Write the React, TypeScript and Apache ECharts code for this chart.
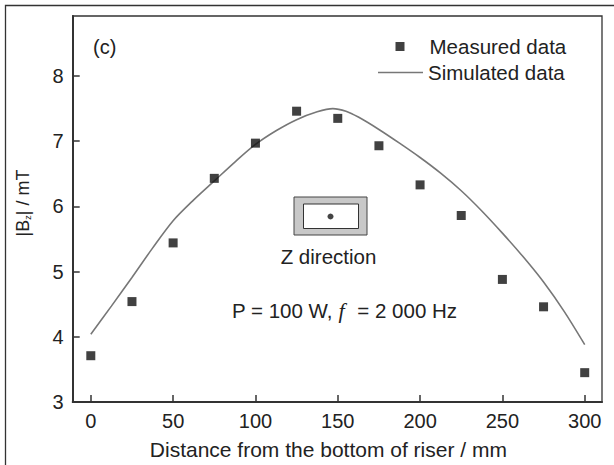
import React, { useEffect, useRef } from "react";
import * as echarts from "echarts";

const xTicks = [0, 50, 100, 150, 200, 250, 300];
const yTicks = [3, 4, 5, 6, 7, 8];

const measuredX = [0, 25, 50, 75, 100, 125, 150, 175, 200, 225, 250, 275, 300];
const measuredY = [3.71, 4.54, 5.44, 6.43, 6.97, 7.46, 7.35, 6.93, 6.33, 5.86, 4.88, 4.46, 3.45];

const simX = [0, 12.5, 25, 37.5, 50, 62.5, 75, 87.5, 100, 112.5, 125, 137.5, 147, 155, 162.5, 175, 187.5, 200, 212.5, 225, 237.5, 250, 262.5, 275, 287.5, 300];
const simY = [4.04, 4.47, 4.91, 5.36, 5.78, 6.1, 6.39, 6.68, 6.95, 7.16, 7.33, 7.45, 7.5, 7.46, 7.37, 7.18, 6.97, 6.75, 6.51, 6.24, 5.93, 5.59, 5.23, 4.84, 4.39, 3.88];

const FONT = "'Liberation Sans', Arial, Helvetica, sans-serif";
const TXT = "#222";

export default function App() {
  const ref = useRef<HTMLDivElement>(null);
  useEffect(() => {
    if (!ref.current) return;
    const chart = echarts.init(ref.current, null, { renderer: "svg" });
    const measured = measuredX.map((x, i) => [x, measuredY[i]]);
    const sim = simX.map((x, i) => [x, simY[i]]);
    chart.setOption({
      animation: false,
      backgroundColor: "#fff",
      textStyle: { fontFamily: FONT, color: TXT },
      grid: {
        left: 72.7,
        top: 16,
        right: 12,
        bottom: 62,
        show: true,
        borderColor: "#333",
        borderWidth: 1.3,
        backgroundColor: "transparent",
      },
      legend: [
        {
          data: [{ name: "Measured data", icon: "rect" }],
          left: 395.5,
          top: 36,
          padding: 0,
          itemWidth: 9,
          itemHeight: 9,
          textStyle: { fontSize: 20.5, color: TXT, fontFamily: FONT, padding: [0, 0, 0, 20] },
          selectedMode: false,
        },
        {
          data: [{ name: "Simulated data", icon: "rect", itemStyle: { color: "#777" } }],
          left: 378,
          top: 62,
          padding: 0,
          itemWidth: 45,
          itemHeight: 1.6,
          textStyle: { fontSize: 20.5, color: TXT, fontFamily: FONT },
          selectedMode: false,
        },
      ],
      xAxis: {
        type: "value",
        min: -11,
        max: 310.5,
        name: "Distance from the bottom of riser / mm",
        nameLocation: "middle",
        nameGap: 37,
        nameTextStyle: { fontSize: 21, color: TXT, fontFamily: FONT, padding: [0, 18, 0, 0] },
        axisLine: { show: true, onZero: false, lineStyle: { color: "#333", width: 2 } },
        axisTick: { show: true, inside: true, length: 7, customValues: xTicks, lineStyle: { color: "#333", width: 1.5 } },
        axisLabel: { fontSize: 20, color: TXT, fontFamily: FONT, margin: 9, customValues: xTicks },
        splitLine: { show: false },
      },
      yAxis: {
        type: "value",
        min: 3,
        max: 8.92,
        axisLine: { show: true, onZero: false, lineStyle: { color: "#333", width: 2 } },
        axisTick: { show: true, inside: true, length: 7, customValues: yTicks, lineStyle: { color: "#333", width: 1.5 } },
        axisLabel: { fontSize: 20, color: TXT, fontFamily: FONT, margin: 9, customValues: yTicks },
        splitLine: { show: false },
      },
      series: [
        {
          name: "Simulated data",
          type: "line",
          data: sim,
          showSymbol: false,
          symbol: "none",
          smooth: 0.3,
          lineStyle: { color: "#777", width: 1.6 },
          itemStyle: { color: "#777" },
          z: 2,
        },
        {
          name: "Measured data",
          type: "scatter",
          data: measured,
          symbol: "rect",
          symbolSize: 9,
          itemStyle: { color: "#111" },
          z: 3,
        },
      ],
      graphic: [
        {
          type: "rect",
          z: -10,
          silent: true,
          shape: { x: 5.5, y: 5.5, width: 700, height: 600 },
          style: { fill: "none", stroke: "#333", lineWidth: 1.3 },
        },
        {
          type: "text",
          x: 23,
          y: 203,
          rotation: Math.PI / 2,
          style: {
            text: "|B{s|z}| / mT",
            fontSize: 18,
            fill: TXT,
            fontFamily: FONT,
            align: "center",
            verticalAlign: "middle",
            rich: {
              s: { fontSize: 9, fill: TXT, fontFamily: FONT, verticalAlign: "bottom", lineHeight: 14 },
            },
          },
        },
        {
          type: "text",
          x: 93,
          y: 47,
          style: { text: "(c)", fontSize: 20, fill: TXT, fontFamily: FONT, verticalAlign: "middle", align: "left" },
        },
        {
          type: "rect",
          shape: { x: 294, y: 197, width: 73, height: 38 },
          style: { fill: "#c8c8c8", stroke: "#444", lineWidth: 1 },
        },
        {
          type: "rect",
          shape: { x: 303.5, y: 204, width: 55, height: 24.5 },
          style: { fill: "#fff", stroke: "#333", lineWidth: 1 },
        },
        {
          type: "circle",
          shape: { cx: 330.5, cy: 216.5, r: 3 },
          style: { fill: "#444" },
        },
        {
          type: "text",
          x: 328.5,
          y: 256,
          style: { text: "Z direction", fontSize: 20.5, fill: TXT, fontFamily: FONT, align: "center", verticalAlign: "middle" },
        },
        {
          type: "text",
          x: 232,
          y: 310,
          style: {
            text: "P = 100 W, {f|f} = 2 000 Hz",
            fontSize: 20.5,
            fill: TXT,
            fontFamily: FONT,
            align: "left",
            verticalAlign: "middle",
            rich: {
              f: { fontSize: 22, fontStyle: "italic", fontFamily: "'Liberation Serif', 'Times New Roman', serif", fill: TXT, padding: [0, 7, 0, 0] },
            },
          },
        },
      ],
    });
    return () => chart.dispose();
  }, []);
  return (
    <div
      ref={ref}
      style={{ position: "fixed", left: 0, top: 0, width: 614, height: 465, background: "#fff" }}
    />
  );
}
